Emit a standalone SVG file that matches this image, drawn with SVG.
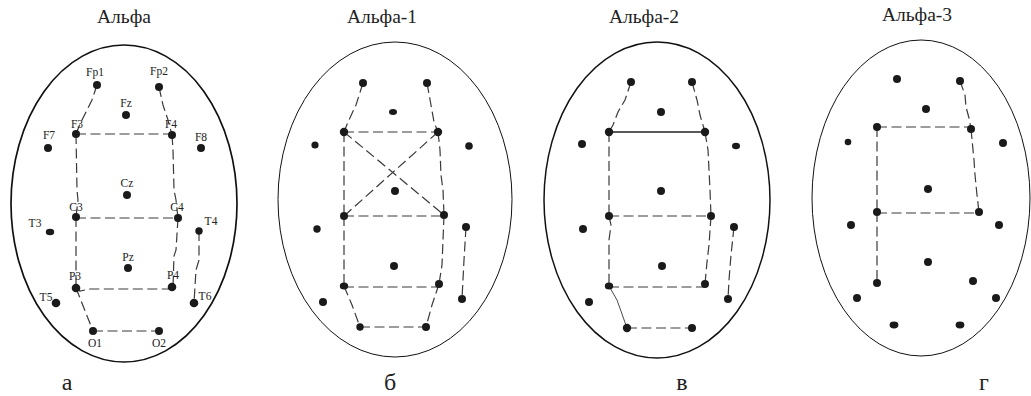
<svg xmlns="http://www.w3.org/2000/svg" width="1031" height="396" viewBox="0 0 1031 396">
<style>
.head{fill:none;stroke:#111}
.d{fill:#1a1a1a}
.lb{font-family:"Liberation Serif",serif;font-size:11.5px;fill:#222;text-anchor:middle}
.tt{font-family:"Liberation Serif",serif;font-size:19.5px;fill:#222;text-anchor:middle}
.pl{font-family:"Liberation Serif",serif;font-size:24px;fill:#222;text-anchor:middle}
.c{fill:none;stroke:#3a3a3a;stroke-width:1.2;stroke-dasharray:10 4.5}
.s{fill:none;stroke:#222;stroke-width:1.7}
.t{fill:none;stroke:#333;stroke-width:0.9}
</style>
<rect width="1031" height="396" fill="#fff"/>
<!-- titles -->
<text class="tt" x="124" y="23">Альфа</text>
<text class="tt" x="382" y="23">Альфа-1</text>
<text class="tt" x="644" y="23">Альфа-2</text>
<text class="tt" x="917" y="21">Альфа-3</text>
<text class="pl" x="67" y="390">а</text>
<text class="pl" x="390" y="390">б</text>
<text class="pl" x="682" y="390">в</text>
<text class="pl" x="984" y="390">г</text>
<!-- heads -->
<ellipse class="head" cx="124" cy="203.5" rx="113" ry="158.5" stroke-width="1.7"/>
<ellipse class="head" cx="395" cy="199.5" rx="117" ry="157.5" stroke-width="1"/>
<ellipse class="head" cx="657" cy="200" rx="113" ry="158" stroke-width="1.5"/>
<ellipse class="head" cx="921" cy="198" rx="109" ry="158" stroke-width="1"/>
<g id="connectors">
<!-- panel a -->
<path class="c" d="M97,85 L92,100 L86,112 L80,124 L76,134"/>
<path class="c" d="M159,87 L163,105 L168,120 L172,135"/>
<path class="c" d="M76,134 H172"/>
<path class="c" d="M76,134 L77,190 L78,200 L76,217"/>
<path class="c" d="M172,135 L173,150 L174,190 L176,200 L178,218"/>
<path class="c" d="M76,218 H178"/>
<path class="c" d="M76,217 V288"/>
<path class="c" d="M178,218 L176,250 L174,256 L173,287"/>
<path class="c" d="M76,288 L80,291 L90,289 H172"/>
<path class="c" d="M76,288 L93,331"/>
<path class="c" d="M93,331 H159"/>
<path class="c" d="M199,231 V260 L196,270 L194,303"/>
<!-- panel b -->
<path class="c" d="M363,83 L356,105 L348,122 L344,132"/>
<path class="c" d="M427,83 L431,105 L434,122 L438,132"/>
<path class="c" d="M344,132 H438"/>
<path class="c" d="M344,132 L444,215"/>
<path class="c" d="M438,132 L344,216"/>
<path class="c" d="M344,132 V216"/>
<path class="c" d="M438,132 L440,150 L441,175 L443,190 L444,215"/>
<path class="c" d="M344,216 H444"/>
<path class="c" d="M344,216 V286"/>
<path class="c" d="M444,215 L443,240 L442,265 L439,284"/>
<path class="c" d="M344,287 H439"/>
<path class="c" d="M344,286 L352,305 L360,327"/>
<path class="c" d="M439,284 L432,305 L426,327"/>
<path class="c" d="M360,327 H426"/>
<path class="c" d="M466,227 L464,260 L462,299"/>
<!-- panel c -->
<path class="c" d="M631,82 L625,100 L618,112 L613,125 L609,132"/>
<path class="c" d="M692,82 L697,100 L700,115 L705,132"/>
<path class="s" d="M609,132 H705"/>
<path class="c" d="M609,132 V216"/>
<path class="c" d="M705,132 L708,150 L710,190 L711,216"/>
<path class="c" d="M609,216 H711"/>
<path class="c" d="M609,216 L611,225 L609,240 V286"/>
<path class="c" d="M711,216 L709,245 L707,262 L705,284"/>
<path class="c" d="M609,287 H705"/>
<path class="t" d="M609,286 L617,300 L627,328"/>
<path class="c" d="M627,328 H692"/>
<path class="c" d="M734,227 L731,255 L729,280 L728,299"/>
<!-- panel d -->
<path class="c" d="M960,81 L965,95 L966,107 L969,118 L971,129"/>
<path class="c" d="M877,127 H971"/>
<path class="c" d="M877,127 V212"/>
<path class="c" d="M971,129 L974,160 L975,175 L977,195 L979,212"/>
<path class="c" d="M877,213 H979"/>
<path class="c" d="M877,212 V283"/>
</g>
<!-- panel a nodes -->
<g id="a-Fp1"><circle class="d" cx="97" cy="85" r="4"/><text class="lb" x="95" y="76">Fp1</text></g>
<g id="a-Fp2"><circle class="d" cx="159" cy="87" r="4"/><text class="lb" x="159" y="75">Fp2</text></g>
<g id="a-Fz"><circle class="d" cx="126" cy="115" r="4"/><text class="lb" x="126" y="107">Fz</text></g>
<g id="a-F3"><circle class="d" cx="76" cy="134" r="4"/><text class="lb" x="77" y="128">F3</text></g>
<g id="a-F4"><circle class="d" cx="172" cy="135" r="4"/><text class="lb" x="171" y="128">F4</text></g>
<g id="a-F7"><circle class="d" cx="48" cy="148" r="4"/><text class="lb" x="49" y="139">F7</text></g>
<g id="a-F8"><circle class="d" cx="201" cy="148" r="4"/><text class="lb" x="201" y="141">F8</text></g>
<g id="a-Cz"><circle class="d" cx="127" cy="195" r="4"/><text class="lb" x="127" y="187">Cz</text></g>
<g id="a-C3"><circle class="d" cx="76" cy="217" r="4"/><text class="lb" x="76" y="211">C3</text></g>
<g id="a-C4"><circle class="d" cx="178" cy="218" r="4"/><text class="lb" x="177" y="211">C4</text></g>
<g id="a-T3"><ellipse class="d" cx="50" cy="232" rx="4.2" ry="3.2"/><text class="lb" x="35" y="227">T3</text></g>
<g id="a-T4"><circle class="d" cx="199" cy="231" r="3.7"/><text class="lb" x="211" y="225">T4</text></g>
<g id="a-Pz"><circle class="d" cx="128" cy="268" r="4"/><text class="lb" x="128" y="261">Pz</text></g>
<g id="a-P3"><circle class="d" cx="76" cy="288" r="4.3"/><text class="lb" x="75" y="280">P3</text></g>
<g id="a-P4"><circle class="d" cx="172" cy="287" r="4.3"/><text class="lb" x="173" y="279">P4</text></g>
<g id="a-T5"><circle class="d" cx="56" cy="303" r="4.3"/><text class="lb" x="46" y="301">T5</text></g>
<g id="a-T6"><circle class="d" cx="194" cy="303" r="4.3"/><text class="lb" x="205" y="300">T6</text></g>
<g id="a-O1"><circle class="d" cx="93" cy="331" r="4"/><text class="lb" x="95" y="347">O1</text></g>
<g id="a-O2"><circle class="d" cx="159" cy="331" r="4"/><text class="lb" x="159" y="347">O2</text></g>
<!-- panel b nodes -->
<g id="b-Fp1"><circle class="d" cx="363" cy="83" r="4"/></g>
<g id="b-Fp2"><circle class="d" cx="427" cy="83" r="4"/></g>
<g id="b-Fz"><ellipse class="d" cx="393" cy="112" rx="4" ry="3"/></g>
<g id="b-F3"><circle class="d" cx="344" cy="132" r="4.2"/></g>
<g id="b-F4"><circle class="d" cx="438" cy="132" r="4.2"/></g>
<g id="b-F7"><circle class="d" cx="315" cy="145" r="3.6"/></g>
<g id="b-F8"><circle class="d" cx="469" cy="146" r="3.8"/></g>
<g id="b-Cz"><circle class="d" cx="395" cy="191" r="4"/></g>
<g id="b-C3"><circle class="d" cx="344" cy="216" r="4"/></g>
<g id="b-C4"><circle class="d" cx="444" cy="215" r="4"/></g>
<g id="b-T3"><circle class="d" cx="317" cy="229" r="3.7"/></g>
<g id="b-T4"><circle class="d" cx="466" cy="227" r="4"/></g>
<g id="b-Pz"><circle class="d" cx="394" cy="266" r="4"/></g>
<g id="b-P3"><ellipse class="d" cx="344" cy="286" rx="4.2" ry="3.5"/></g>
<g id="b-P4"><circle class="d" cx="439" cy="284" r="4"/></g>
<g id="b-T5"><circle class="d" cx="323" cy="302" r="4"/></g>
<g id="b-T6"><circle class="d" cx="462" cy="299" r="4"/></g>
<g id="b-O1"><circle class="d" cx="360" cy="327" r="3.7"/></g>
<g id="b-O2"><circle class="d" cx="426" cy="327" r="4"/></g>
<!-- panel c nodes -->
<g id="c-Fp1"><circle class="d" cx="631" cy="82" r="4"/></g>
<g id="c-Fp2"><circle class="d" cx="692" cy="82" r="4"/></g>
<g id="c-Fz"><circle class="d" cx="661" cy="112" r="4"/></g>
<g id="c-F3"><circle class="d" cx="609" cy="132" r="4.2"/></g>
<g id="c-F4"><circle class="d" cx="705" cy="132" r="4.2"/></g>
<g id="c-F7"><circle class="d" cx="582" cy="144" r="4"/></g>
<g id="c-F8"><ellipse class="d" cx="736" cy="146" rx="4" ry="3.3"/></g>
<g id="c-Cz"><circle class="d" cx="661" cy="191" r="4"/></g>
<g id="c-C3"><circle class="d" cx="609" cy="216" r="4"/></g>
<g id="c-C4"><circle class="d" cx="711" cy="216" r="4"/></g>
<g id="c-T3"><circle class="d" cx="583" cy="229" r="4"/></g>
<g id="c-T4"><circle class="d" cx="734" cy="227" r="4"/></g>
<g id="c-Pz"><circle class="d" cx="662" cy="266" r="4"/></g>
<g id="c-P3"><ellipse class="d" cx="609" cy="286" rx="4.2" ry="3.5"/></g>
<g id="c-P4"><circle class="d" cx="705" cy="284" r="4"/></g>
<g id="c-T5"><circle class="d" cx="589" cy="302" r="4"/></g>
<g id="c-T6"><circle class="d" cx="728" cy="299" r="4"/></g>
<g id="c-O1"><circle class="d" cx="627" cy="328" r="4.2"/></g>
<g id="c-O2"><circle class="d" cx="692" cy="328" r="4"/></g>
<!-- panel d nodes -->
<g id="d-Fp1"><circle class="d" cx="897" cy="79" r="4"/></g>
<g id="d-Fp2"><circle class="d" cx="960" cy="81" r="4"/></g>
<g id="d-Fz"><circle class="d" cx="926" cy="109" r="4"/></g>
<g id="d-F3"><circle class="d" cx="877" cy="127" r="4"/></g>
<g id="d-F4"><circle class="d" cx="971" cy="129" r="4"/></g>
<g id="d-F7"><circle class="d" cx="848" cy="142" r="3.3"/></g>
<g id="d-F8"><circle class="d" cx="1003" cy="143" r="4"/></g>
<g id="d-Cz"><circle class="d" cx="928" cy="189" r="4"/></g>
<g id="d-C3"><circle class="d" cx="877" cy="212" r="4"/></g>
<g id="d-C4"><circle class="d" cx="979" cy="212" r="4"/></g>
<g id="d-T3"><circle class="d" cx="851" cy="225" r="4"/></g>
<g id="d-T4"><circle class="d" cx="999" cy="225" r="4"/></g>
<g id="d-Pz"><circle class="d" cx="928" cy="262" r="4"/></g>
<g id="d-P3"><circle class="d" cx="877" cy="283" r="4"/></g>
<g id="d-P4"><circle class="d" cx="973" cy="281" r="4"/></g>
<g id="d-T5"><circle class="d" cx="857" cy="298" r="4"/></g>
<g id="d-T6"><circle class="d" cx="996" cy="298" r="4"/></g>
<g id="d-O1"><ellipse class="d" cx="894" cy="325" rx="4.4" ry="3.4"/></g>
<g id="d-O2"><ellipse class="d" cx="960" cy="325" rx="4.4" ry="3.4"/></g>
</svg>
